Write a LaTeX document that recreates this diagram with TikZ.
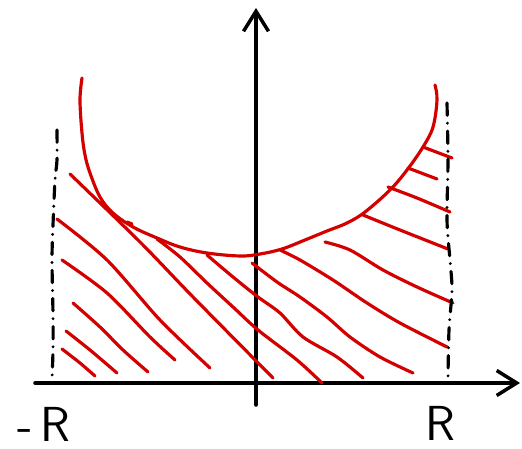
\documentclass[tikz,border=0pt]{standalone}
\usepackage{tikz}
\usetikzlibrary{arrows.meta}
\usepackage{xcolor}
\definecolor{hatchred}{RGB}{212,0,0}
\tikzset{
  axisline/.style={line width=2pt,->},
  hatch/.style={hatchred,line width=1.8pt},
  boundline/.style={line width=1.8pt,dash pattern=on 7pt off 4.5pt on 0pt off 4.5pt},
}

\begin{document}
\begin{tikzpicture}[x=0.02cm,y=-0.02cm,>={Straight Barb[length=4mm,width=5mm]},line cap=round,font=\sffamily\fontsize{28}{28}\selectfont]
\useasboundingbox (0,0) rectangle (522,449);
% axes
\draw[axisline] (256,405) -- (256,8);
\draw[axisline] (35,383) -- (520,383);
% the U shaped curve
\draw[hatch] plot[smooth,tension=0.6] coordinates {(82,78) (80,100) (82,133) (85,155) (90,173) (100,197) (113,213) (133,227) (157,238) (180,247) (207,253) (240,256) (260,254) (282,249) (305,240) (327,231) (347,223) (365,212) (390,190) (407,170) (423,147) (433,127) (437,100) (435,85)};
% hatching, left part
\draw[hatch] plot[smooth] coordinates {(70,174) (140,242) (193,297) (273,378)};
\draw[hatch] plot[smooth] coordinates {(57,219) (107,260) (160,320) (210,368)};
\draw[hatch] plot[smooth] coordinates {(62,260) (107,293) (150,337) (175,360)};
\draw[hatch] plot[smooth] coordinates {(73,303) (100,327) (123,350) (148,372)};
\draw[hatch] plot[smooth] coordinates {(66,331) (90,350) (117,373)};
\draw[hatch] plot[smooth] coordinates {(62,349) (80,363) (95,376)};
\draw[hatch] (127,222) -- (132,224);
\draw[hatch] plot[smooth] coordinates {(157,239) (180,257) (207,283) (233,307) (258,330) (297,360) (322,383)};
\draw[hatch] plot[smooth] coordinates {(207,255) (233,277) (258,297) (280,313) (303,337) (337,357) (363,378)};
% hatching, right part
\draw[hatch] plot[smooth] coordinates {(252,263) (277,282) (300,297) (327,317) (350,337) (380,357) (413,373)};
\draw[hatch] plot[smooth] coordinates {(280,250) (300,260) (333,280) (367,303) (400,323) (447,347)};
\draw[hatch] plot[smooth] coordinates {(325,242) (350,250) (383,270) (417,287) (453,303)};
\draw[hatch] plot[smooth] coordinates {(363,215) (400,230) (448,249)};
\draw[hatch] plot[smooth] coordinates {(388,187) (417,198) (450,212)};
\draw[hatch] (408,168) -- (437,179);
\draw[hatch] (423,147) -- (452,158);
% dash-dot bounds at -R and R
\draw[boundline] plot[smooth] coordinates {(57,130) (57,160) (55,180) (53,225) (52,260) (53,315) (53,350) (52,380)};
\draw[boundline] plot[smooth] coordinates {(447,103) (448,160) (447,220) (450,260) (452,290) (449,330) (448,378)};
% labels
\node[inner sep=0pt] (minusR) at (44,424) {-\,R};
\node[inner sep=0pt] (plusR) at (440,423) {R};
\end{tikzpicture}
\end{document}
